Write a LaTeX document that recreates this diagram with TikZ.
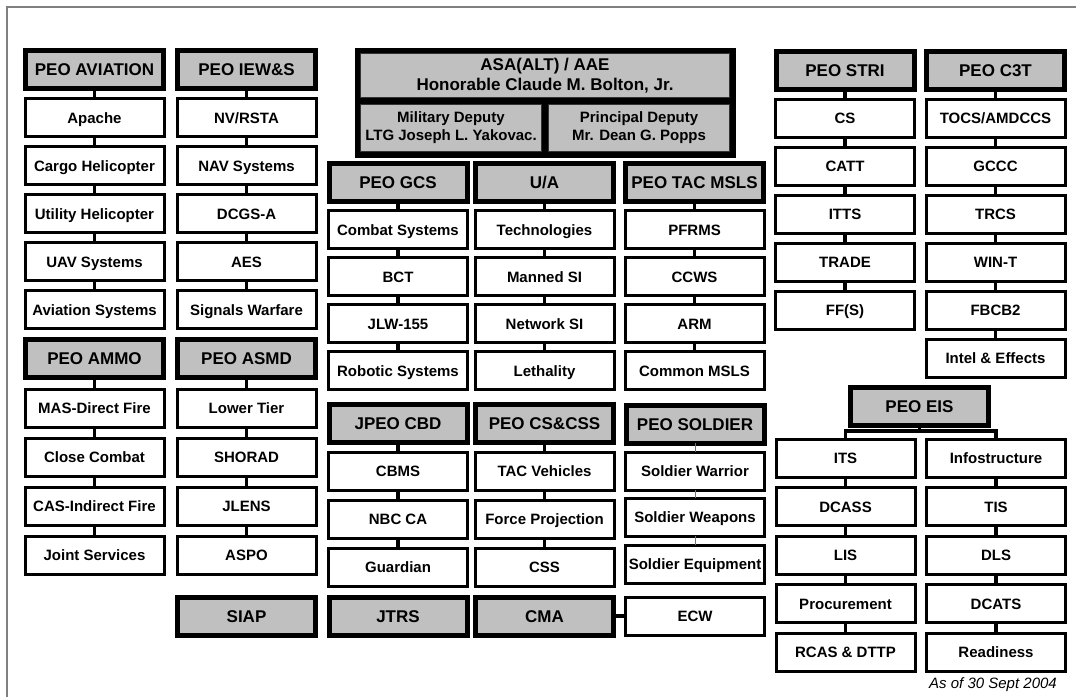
\documentclass[tikz,border=0pt]{standalone}
\usepackage{fontspec}
\setmainfont{Liberation Sans}
\usetikzlibrary{positioning,fit,backgrounds}
\definecolor{peogray}{RGB}{192,192,192}
\definecolor{framegray}{RGB}{128,128,128}

\begin{document}
\begin{tikzpicture}[x=1pt, y=1pt, node distance=10pt]
\tikzstyle{item} = [rectangle, draw=black, line width=3pt, fill=white, minimum width=139pt, minimum height=38pt, inner sep=0pt, outer sep=0pt, text height=12pt, text depth=1pt, text centered, font=\bfseries\fontsize{15}{17}\selectfont];
\tikzstyle{head} = [rectangle, draw=black, line width=5pt, fill=peogray, minimum width=138pt, minimum height=38pt, inner sep=0pt, outer sep=0pt, text height=13pt, text depth=1pt, text centered, font=\bfseries\fontsize{17}{20}\selectfont];
\tikzstyle{boss} = [rectangle, draw=black!80, line width=1pt, fill=peogray, inner sep=0pt, outer sep=0pt, align=center];
\tikzstyle{link} = [draw=black, line width=3.5pt];
\tikzstyle{thinlink} = [draw=black!55, line width=1pt];

\useasboundingbox (0,0) rectangle (1076,-696);
\draw[framegray, line width=2pt] (7,-7) rectangle (1100,-720);

% top office
\node (asa) [boss, minimum width=369pt, minimum height=44pt, font=\bfseries\fontsize{17}{20}\selectfont] at (545,-75.5) {ASA(ALT) / AAE\\Honorable Claude M. Bolton, Jr.};
\node (mildep) [boss, minimum width=181pt, minimum height=47pt, font=\bfseries\fontsize{15}{18}\selectfont] at (451,-128) {Military Deputy\\LTG Joseph L. Yakovac.};
\node (prindep) [boss, minimum width=181pt, minimum height=47pt, font=\bfseries\fontsize{15}{18}\selectfont] at (639,-128) {Principal Deputy\\Mr. Dean G. Popps};
\begin{pgfonlayer}{background}
\node (asabox) [fit=(asa)(mildep)(prindep), fill=black, inner sep=6pt] {};
\end{pgfonlayer}

% left columns
\node (aviation) [head] at (94.5,-69.5) {PEO AVIATION};
\node (apache) [item, below=of aviation] {Apache};
\node (cargo) [item, below=of apache] {Cargo Helicopter};
\node (utility) [item, below=of cargo] {Utility Helicopter};
\node (uav) [item, below=of utility] {UAV Systems};
\node (avsys) [item, below=of uav] {Aviation Systems};

\node (iews) [head] at (246.5,-69.5) {PEO IEW\&S};
\node (nvrsta) [item, below=of iews] {NV/RSTA};
\node (navsys) [item, below=of nvrsta] {NAV Systems};
\node (dcgsa) [item, below=of navsys] {DCGS-A};
\node (aes) [item, below=of dcgsa] {AES};
\node (sigwar) [item, below=of aes] {Signals Warfare};

\node (ammo) [head] at (94.5,-358) {PEO AMMO};
\node (masdf) [item, below=12pt of ammo] {MAS-Direct Fire};
\node (closecombat) [item, below=11pt of masdf] {Close Combat};
\node (casif) [item, below=11pt of closecombat] {CAS-Indirect Fire};
\node (jointsvc) [item, below=11pt of casif] {Joint Services};

\node (asmd) [head] at (246.5,-358) {PEO ASMD};
\node (lowertier) [item, below=12pt of asmd] {Lower Tier};
\node (shorad) [item, below=11pt of lowertier] {SHORAD};
\node (jlens) [item, below=11pt of shorad] {JLENS};
\node (aspo) [item, below=11pt of jlens] {ASPO};
\node (siap) [head] at (246.5,-616) {SIAP};

% middle columns
\node (gcs) [head] at (398,-182.5) {PEO GCS};
\node (combatsys) [item, below=9pt of gcs] {Combat Systems};
\node (bct) [item, below=9pt of combatsys] {BCT};
\node (jlw) [item, below=9pt of bct] {JLW-155};
\node (robotic) [item, below=9pt of jlw] {Robotic Systems};

\node (ua) [head] at (544.5,-182.5) {U/A};
\node (tech) [item, below=9pt of ua] {Technologies};
\node (mannedsi) [item, below=9pt of tech] {Manned SI};
\node (networksi) [item, below=9pt of mannedsi] {Network SI};
\node (lethality) [item, below=9pt of networksi] {Lethality};

\node (tacmsls) [head] at (694.5,-182.5) {PEO TAC MSLS};
\node (pfrms) [item, below=9pt of tacmsls] {PFRMS};
\node (ccws) [item, below=9pt of pfrms] {CCWS};
\node (arm) [item, below=9pt of ccws] {ARM};
\node (commonmsls) [item, below=9pt of arm] {Common MSLS};

\node (jpeo) [head] at (398,-423) {JPEO CBD};
\node (cbms) [item, below=of jpeo] {CBMS};
\node (nbcca) [item, below=of cbms] {NBC CA};
\node (guardian) [item, below=of nbcca] {Guardian};
\node (jtrs) [head] at (398,-616) {JTRS};

\node (cscss) [head] at (544.5,-423) {PEO CS\&CSS};
\node (tacveh) [item, below=of cscss] {TAC Vehicles};
\node (forceproj) [item, below=of tacveh] {Force Projection};
\node (css) [item, below=of forceproj] {CSS};
\node (cma) [head] at (544.5,-616) {CMA};

\node (soldier) [head] at (695,-424) {PEO SOLDIER};
\node (swarrior) [item, below=9pt of soldier] {Soldier Warrior};
\node (sweapons) [item, below=8pt of swarrior] {Soldier Weapons};
\node (sequip) [item, below=9pt of sweapons] {Soldier Equipment};
\node (ecw) [item] at (695,-616) {ECW};

% right columns
\node (stri) [head] at (845,-70) {PEO STRI};
\node (cs) [item, below=of stri] {CS};
\node (catt) [item, below=of cs] {CATT};
\node (itts) [item, below=of catt] {ITTS};
\node (trade) [item, below=of itts] {TRADE};
\node (ffs) [item, below=of trade] {FF(S)};

\node (c3t) [head] at (995.5,-70) {PEO C3T};
\node (tocs) [item, below=of c3t] {TOCS/AMDCCS};
\node (gccc) [item, below=of tocs] {GCCC};
\node (trcs) [item, below=of gccc] {TRCS};
\node (wint) [item, below=of trcs] {WIN-T};
\node (fbcb2) [item, below=of wint] {FBCB2};
\node (intel) [item, below=of fbcb2] {Intel \& Effects};

\node (eis) [head] at (919.5,-406) {PEO EIS};
\node (its) [item] at (845.5,-458) {ITS};
\node (dcass) [item, below=10.5pt of its] {DCASS};
\node (lis) [item, below=10.5pt of dcass] {LIS};
\node (procure) [item, below=10.5pt of lis] {Procurement};
\node (rcas) [item, below=10.5pt of procure] {RCAS \& DTTP};
\node (infostr) [item] at (996,-458) {Infostructure};
\node (tis) [item, below=10.5pt of infostr] {TIS};
\node (dls) [item, below=10.5pt of tis] {DLS};
\node (dcats) [item, below=10.5pt of dls] {DCATS};
\node (readiness) [item, below=10.5pt of dcats] {Readiness};

\node (asof) [font=\itshape\fontsize{15}{17}\selectfont] at (993,-685) {As of 30 Sept 2004};

% connectors
\draw[link] (aviation) -- (apache) (apache) -- (cargo) (cargo) -- (utility) (utility) -- (uav) (uav) -- (avsys);
\draw[link] (iews) -- (nvrsta) (nvrsta) -- (navsys) (navsys) -- (dcgsa) (dcgsa) -- (aes) (aes) -- (sigwar);
\draw[link] (ammo) -- (masdf) (masdf) -- (closecombat) (closecombat) -- (casif) (casif) -- (jointsvc);
\draw[link] (asmd) -- (lowertier) (lowertier) -- (shorad) (shorad) -- (jlens) (jlens) -- (aspo);
\draw[link] (gcs) -- (combatsys) (combatsys) -- (bct) (bct) -- (jlw) (jlw) -- (robotic);
\draw[link] (ua) -- (tech) (tech) -- (mannedsi) (mannedsi) -- (networksi) (networksi) -- (lethality);
\draw[link] (tacmsls) -- (pfrms) (pfrms) -- (ccws) (ccws) -- (arm) (arm) -- (commonmsls);
\draw[link] (jpeo) -- (cbms) (cbms) -- (nbcca) (nbcca) -- (guardian);
\draw[link] (cscss) -- (tacveh) (tacveh) -- (forceproj) (forceproj) -- (css);
\draw[thinlink] (soldier) -- (swarrior) (swarrior) -- (sweapons) (sweapons) -- (sequip);
\draw[link] (cma) -- (ecw);
\draw[link] (stri) -- (cs) (cs) -- (catt) (catt) -- (itts) (itts) -- (trade) (trade) -- (ffs);
\draw[link] (c3t) -- (tocs) (tocs) -- (gccc) (gccc) -- (trcs) (trcs) -- (wint) (wint) -- (fbcb2) (fbcb2) -- (intel);
\draw[link] (eis.south) -- ++(0,-6) -| (its.north);
\draw[link] (eis.south) -- ++(0,-6) -| (infostr.north);
\draw[link] (its) -- (dcass) (dcass) -- (lis) (lis) -- (procure) (procure) -- (rcas);
\draw[link] (infostr) -- (tis) (tis) -- (dls) (dls) -- (dcats) (dcats) -- (readiness);
\end{tikzpicture}
\end{document}
